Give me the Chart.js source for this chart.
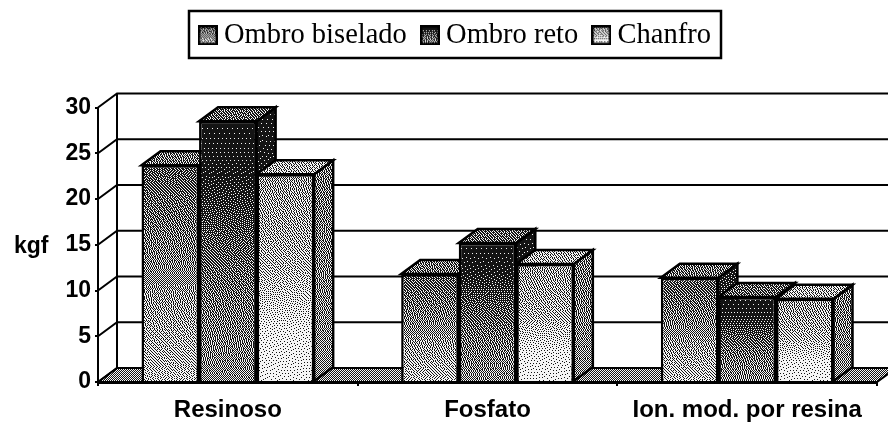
<!DOCTYPE html>
<html><head><meta charset="utf-8">
<style>html,body{margin:0;padding:0;background:#fff}#w{width:888px;height:422px;position:relative}</style>
<script src="https://cdn.jsdelivr.net/npm/chart.js@4"></script>
</head><body><div id="w"><canvas id="c" width="888" height="422"></canvas></div>
<script>
const categories = ['Resinoso', 'Fosfato', 'Ion. mod. por resina'];
const seriesNames = ['Ombro biselado', 'Ombro reto', 'Chanfro'];
const ombroBiselado = [23.7, 11.8, 11.4];
const ombroReto = [28.5, 15.2, 9.3];
const chanfro = [22.7, 12.9, 9.1];
const yMax = 30, yStep = 5;
const axisTitle = 'kgf';

const DX = 19, DY = 14;
// tone stops per series: top of bar -> base (0 black, 1 white)
const frontTones = [
  [[0,.3],[.4,.45],[.75,.62],[1,.7]],
  [[0,.03],[.2,.08],[.45,.3],[.7,.42],[1,.5]],
  [[0,.55],[.45,.66],[.75,.86],[1,.9]]
];
const sideTones = [
  [[0,.12],[1,.4]],
  [[0,.04],[.25,.08],[1,.3]],
  [[0,.42],[1,.5]]
];
const topTones = [.42, .36, .62];
const floorTone = .5;

function toneAt(stops, t){
  t = Math.max(0, Math.min(1, t));
  for (let i = 1; i < stops.length; i++) {
    if (t <= stops[i][0]) {
      const a = stops[i-1], b = stops[i];
      return a[1] + (b[1]-a[1])*(t-a[0])/(b[0]-a[0]);
    }
  }
  return stops[stops.length-1][1];
}
// deterministic error-diffusion halftone, as in the scanned reference
function halftone(w, h, toneFn){
  const cv = document.createElement('canvas'); cv.width = w; cv.height = h;
  const g = cv.getContext('2d'), im = g.createImageData(w, h), d = im.data;
  let cur = new Float32Array(w+2), nxt = new Float32Array(w+2);
  for (let y = 0; y < h; y++) {
    const base = toneFn(y);
    for (let x = 0; x < w; x++) {
      const v = base + cur[x+1];
      const o = v >= .5 ? 1 : 0, e = v - o;
      cur[x+2] += e*7/16; nxt[x] += e*3/16; nxt[x+1] += e*5/16; nxt[x+2] += e/16;
      const i = (y*w+x)*4, c = o ? 245 : 20;
      d[i] = d[i+1] = d[i+2] = c; d[i+3] = 255;
    }
    cur = nxt; nxt = new Float32Array(w+2);
  }
  g.putImageData(im, 0, 0);
  return cv;
}
const cache = {};
function pat(chart, key, fn){
  if (!cache[key]) cache[key] = chart.ctx.createPattern(halftone(chart.width, chart.height, fn), 'no-repeat');
  return cache[key];
}
function barFill(ctx){
  const chart = ctx.chart, y = chart.scales.y;
  if (!y || ctx.parsed === undefined || ctx.parsed === null) return '#888';
  const yt = y.getPixelForValue(ctx.parsed.y), y0 = y.getPixelForValue(0);
  const di = ctx.datasetIndex;
  return pat(chart, 'f'+di+'_'+ctx.dataIndex, p => toneAt(frontTones[di], (p-yt)/(y0-yt)));
}
const swatches = [0,1,2].map(di => {
  const n = 20, s = halftone(n, n, p => toneAt(frontTones[di], p/n));
  const g = s.getContext('2d'); g.strokeStyle = '#000'; g.lineWidth = 3; g.strokeRect(1,1,n-2,n-2);
  return s;
});

function poly(c, pts, fill){
  c.beginPath(); pts.forEach((p,i)=> i ? c.lineTo(p[0],p[1]) : c.moveTo(p[0],p[1])); c.closePath();
  if (fill) { c.fillStyle = fill; c.fill(); }
  c.stroke();
}
function drawDepth(chart, di){
  const c = chart.ctx, meta = chart.getDatasetMeta(di);
  c.save(); c.strokeStyle = '#000'; c.lineWidth = 2.5; c.lineJoin = 'miter';
  meta.data.forEach((el, i) => {
    const p = el.getProps(['x','y','base','width'], true);
    const l = p.x - p.width/2, r = p.x + p.width/2, t = p.y, b = p.base;
    const sideFill = pat(chart, 's'+di+'_'+i, q => toneAt(sideTones[di], (q-(t-DY))/(b-t)));
    const topFill = pat(chart, 't'+di, () => topTones[di]);
    poly(c, [[r,t],[r+DX,t-DY],[r+DX,b-DY],[r,b]], sideFill);
    poly(c, [[l,t],[l+DX,t-DY],[r+DX,t-DY],[r,t]], topFill);
  });
  c.restore();
}
const depth3d = {
  id: 'depth3d',
  afterLayout(chart){
    const l = chart.legend; if (!l) return;
    l.left = 184.75; l.right = 740; l.top = 0;
  },
  beforeDatasetsDraw(chart){
    const c = chart.ctx, a = chart.chartArea, ys = chart.scales.y;
    c.save(); c.strokeStyle = '#000'; c.lineWidth = 2; c.lineJoin = 'miter';
    const x0 = a.left, x1 = a.right, y0 = ys.getPixelForValue(0);
    poly(c, [[x0,y0],[x0+DX,y0-DY],[x1+DX,y0-DY],[x1,y0]], pat(chart,'floor',()=>floorTone));
    ys.ticks.forEach(t => {
      const p = ys.getPixelForValue(t.value);
      c.beginPath(); c.moveTo(x0,p); c.lineTo(x0+DX,p-DY);
      if (t.value > 0) c.lineTo(x1+DX,p-DY);
      c.stroke();
    });
    c.beginPath(); c.moveTo(x0+DX,ys.getPixelForValue(yMax)-DY); c.lineTo(x0+DX,y0-DY); c.stroke();
    c.restore();
    // left-to-right so each bar's front covers its left neighbour's side face
    chart.data.datasets.forEach((d, di) => {
      drawDepth(chart, di);
      chart.getDatasetMeta(di).controller.draw();
    });
    return false;
  },
  afterDraw(chart){
    const c = chart.ctx, ys = chart.scales.y;
    c.save();
    c.strokeStyle = '#000'; c.lineWidth = 2.5;
    c.strokeRect(189, 11, 532, 47);
    c.fillStyle = '#000'; c.font = 'bold 23px "Liberation Sans"';
    c.textAlign = 'left'; c.textBaseline = 'middle';
    c.fillText(axisTitle, 14, ys.getPixelForValue(15) + 2);
    c.restore();
  }
};

function mk(i, data){
  return {
    label: seriesNames[i], data,
    backgroundColor: barFill, borderColor: '#000', borderWidth: 2.5,
    categoryPercentage: 0.665, barPercentage: 1
  };
}
new Chart(document.getElementById('c'), {
  type: 'bar',
  data: { labels: categories, datasets: [mk(0, ombroBiselado), mk(1, ombroReto), mk(2, chanfro)] },
  plugins: [depth3d],
  options: {
    responsive: false, animation: false, devicePixelRatio: 1,
    layout: { padding: { left: 0, right: 11, top: 48, bottom: 0 } },
    plugins: {
      tooltip: { enabled: false },
      legend: {
        position: 'top', align: 'start',
        labels: {
          color: '#000',
          font: { family: '"Liberation Serif"', size: 28.5 },
          padding: 21, boxWidth: 4, usePointStyle: true,
          generateLabels(chart){
            return chart.data.datasets.map((d, i) => ({
              text: d.label, datasetIndex: i, pointStyle: swatches[i],
              fontColor: '#000', lineWidth: 0, hidden: false
            }));
          }
        }
      }
    },
    scales: {
      x: {
        offset: true,
        afterFit(s){ s.height = 40; },
        grid: { offset: true, drawOnChartArea: false, color: '#000', lineWidth: 2, tickLength: 4 },
        border: { color: '#000', width: 3 },
        ticks: { color: '#000', autoSkip: false, maxRotation: 0, padding: 10,
                 font: { family: '"Liberation Sans"', weight: 'bold', size: 24 } }
      },
      y: {
        min: 0, max: yMax,
        afterFit(s){ s.width = 98; },
        grid: { drawOnChartArea: false, color: '#000', lineWidth: 2, tickLength: 3 },
        border: { color: '#000', width: 2 },
        ticks: { stepSize: yStep, color: '#000', padding: 4,
                 font: { family: '"Liberation Sans"', weight: 'bold', size: 23 } }
      }
    }
  }
});
</script></body></html>
